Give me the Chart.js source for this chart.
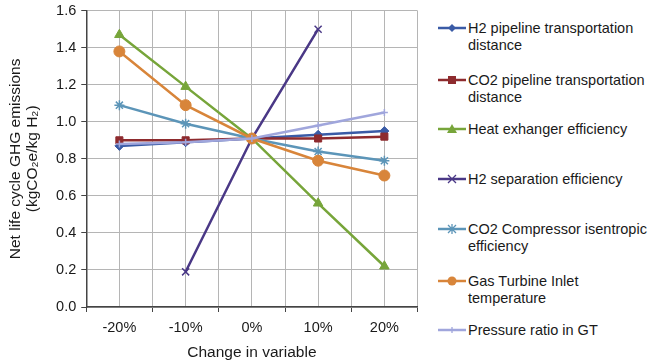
<!DOCTYPE html>
<html>
<head>
<meta charset="utf-8">
<script src="https://cdn.jsdelivr.net/npm/chart.js@4/dist/chart.umd.min.js"></script>
<style>
  body { margin: 0; background: #fff; font-family: "Liberation Sans", Arial, sans-serif; overflow: hidden; }
  #wrap { position: relative; width: 648px; height: 363px; overflow: hidden; }
  #chart-box { position: absolute; left: 0; top: -3px; width: 424px; height: 366px; }
  #legend { position: absolute; left: 436px; top: 0; width: 212px; height: 363px; }
  .leg-item { position: absolute; left: 0; display: flex; align-items: flex-start; }
  .leg-item svg { flex: none; }
  .leg-text { font-size: 14.5px; line-height: 16.5px; color: #1a1a1a; margin-left: 1px; white-space: nowrap; }
</style>
</head>
<body>
<div id="wrap">
  <div id="chart-box"><canvas id="ghg-chart" width="424" height="366"></canvas></div>
  <div id="legend"></div>
</div>
<script>
const changes = ['-20%', '-10%', '0%', '10%', '20%'];
const yTicks = [0, 0.2, 0.4, 0.6, 0.8, 1.0, 1.2, 1.4, 1.6];

const seriesNames = [
    ['H2 pipeline transportation', 'distance'],
    ['CO2 pipeline transportation', 'distance'],
    ['Heat exhanger efficiency'],
    ['H2 separation efficiency'],
    ['CO2 Compressor isentropic', 'efficiency'],
    ['Gas Turbine Inlet', 'temperature'],
    ['Pressure ratio in GT']
];

const h2Pipeline = [0.87, 0.89, 0.91, 0.93, 0.95];
const co2Pipeline = [0.90, 0.90, 0.91, 0.91, 0.92];
const heatExchanger = [1.47, 1.19, 0.91, 0.56, 0.22];
const h2Separation = [null, 0.19, 0.91, 1.50, null];
const co2Compressor = [1.09, 0.99, 0.91, 0.84, 0.79];
const gasTurbine = [1.38, 1.09, 0.91, 0.79, 0.71];
const pressureRatio = [0.88, 0.89, 0.91, 0.98, 1.05];

const seriesData = [h2Pipeline, co2Pipeline, heatExchanger, h2Separation, co2Compressor, gasTurbine, pressureRatio];
const colors = ['#3A5BA6', '#8E2B2E', '#77A53A', '#4A3886', '#5C95B8', '#D8853A', '#A0A6DC'];
const markers = ['rectRot', 'rect', 'triangle', 'crossRot', 'star', 'circle', 'cross'];
const markerSize = [4.5, 5, 5.5, 5, 5, 5.5, 3.5];

// legend rows (top of first text line)
const legendTops = [20, 72, 121, 171, 221, 273, 322];

const axisColor = '#444';
const gridColor = '#b5b5b5';

let datasets = seriesData.map((vals, i) => ({
    label: seriesNames[i].join(' '),
    data: vals,
    borderColor: colors[i],
    backgroundColor: colors[i],
    pointStyle: markers[i],
    pointRadius: markerSize[i],
    pointBorderWidth: (markers[i] == 'crossRot' || markers[i] == 'star' || markers[i] == 'cross') ? 1.5 : 1,
    pointBorderColor: colors[i],
    pointBackgroundColor: colors[i],
    borderWidth: 2.5,
    tension: 0,
    spanGaps: false,
    order: seriesData.length - i
}));

let ghgChart = new Chart(document.getElementById('ghg-chart'), {
    type: 'line',
    data: { labels: changes, datasets: datasets },
    options: {
        responsive: false,
        animation: false,
        layout: { padding: { top: 0, right: 6, left: 7, bottom: 0 } },
        plugins: {
            legend: { display: false },
            tooltip: { enabled: false }
        },
        scales: {
            x: {
                offset: true,
                grid: {
                    offset: true,
                    color: gridColor,
                    borderDash: [2, 2],
                    tickBorderDash: [],
                    tickColor: axisColor,
                    tickLength: 5,
                    tickWidth: 1
                },
                border: { display: true, color: axisColor, width: 1.5 },
                ticks: { color: '#1a1a1a', font: { family: 'Liberation Sans', size: 14.5 }, padding: 7 },
                title: {
                    display: true,
                    text: 'Change in variable',
                    color: '#1a1a1a',
                    font: { family: 'Liberation Sans', size: 15.5 },
                    padding: { top: 0, bottom: 1 }
                }
            },
            x2: {
                type: 'category',
                labels: changes,
                position: 'bottom',
                offset: true,
                grid: {
                    offset: false,
                    color: gridColor,
                    borderDash: [2, 2],
                    drawTicks: false
                },
                border: { display: false },
                ticks: { display: false }
            },
            y: {
                min: 0,
                max: 1.6,
                afterBuildTicks: (axis) => { axis.ticks = yTicks.map(v => ({ value: v })); },
                grid: {
                    color: gridColor,
                    borderDash: [2, 2],
                    tickBorderDash: [],
                    tickColor: axisColor,
                    tickLength: 5,
                    tickWidth: 1
                },
                border: { display: true, color: axisColor, width: 1.5 },
                ticks: {
                    color: '#1a1a1a',
                    font: { family: 'Liberation Sans', size: 14.5 },
                    padding: 5,
                    callback: (v) => Number(v).toFixed(1)
                },
                title: {
                    display: true,
                    text: ['Net life cycle GHG emissions', '(kgCO\u2082e/kg H\u2082)'],
                    color: '#1a1a1a',
                    font: { family: 'Liberation Sans', size: 15.5, lineHeight: 1.1 },
                    padding: { top: 0, bottom: 10 }
                }
            }
        }
    }
});

// legend, built from the same arrays
function markerSvg(style, color) {
    const c = 16, m = 8;
    switch (style) {
        case 'rectRot': return `<polygon points="${c},${m-4} ${c+4},${m} ${c},${m+4} ${c-4},${m}" fill="${color}"/>`;
        case 'rect': return `<rect x="${c-4}" y="${m-4}" width="8" height="8" fill="${color}"/>`;
        case 'triangle': return `<polygon points="${c},${m-5} ${c+5},${m+4} ${c-5},${m+4}" fill="${color}"/>`;
        case 'crossRot': return `<path d="M${c-4} ${m-4}L${c+4} ${m+4}M${c+4} ${m-4}L${c-4} ${m+4}" stroke="${color}" stroke-width="1.3"/>`;
        case 'star': return `<path d="M${c-4} ${m-4}L${c+4} ${m+4}M${c+4} ${m-4}L${c-4} ${m+4}M${c} ${m-5}L${c} ${m+5}" stroke="${color}" stroke-width="1.3"/>`;
        case 'circle': return `<circle cx="${c}" cy="${m}" r="4.5" fill="${color}"/>`;
        case 'cross': return `<path d="M${c} ${m-3}L${c} ${m+3}" stroke="${color}" stroke-width="1.3"/>`;
    }
    return '';
}

const legendBox = document.getElementById('legend');
seriesNames.forEach((lines, i) => {
    const item = document.createElement('div');
    item.className = 'leg-item';
    item.style.top = legendTops[i] + 'px';
    item.innerHTML =
        `<svg width="31" height="16"><line x1="2" y1="8" x2="30" y2="8" stroke="${colors[i]}" stroke-width="2.5"/>${markerSvg(markers[i], colors[i])}</svg>` +
        `<div class="leg-text">${lines.join('<br>')}</div>`;
    legendBox.appendChild(item);
});
</script>
</body>
</html>
